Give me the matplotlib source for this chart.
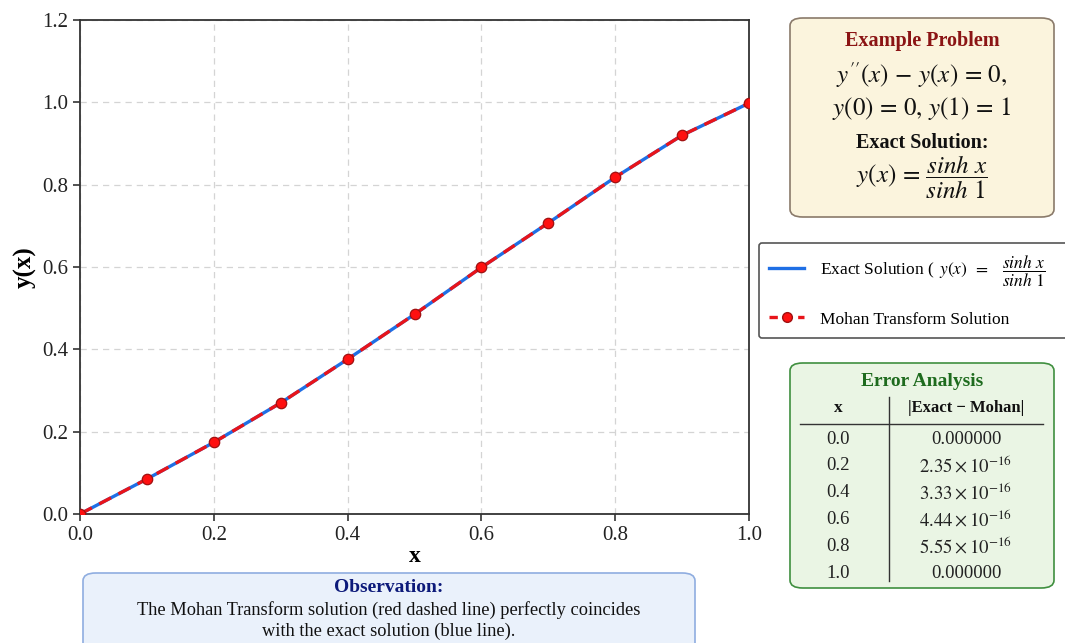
import matplotlib
matplotlib.use("Agg")
import matplotlib.pyplot as plt
from matplotlib.patches import FancyBboxPatch
from matplotlib.lines import Line2D

plt.rcParams['font.family'] = ['Liberation Serif', 'DejaVu Serif']
plt.rcParams['mathtext.fontset'] = 'stix'

# Data
x_vals = [0.0, 0.1, 0.2, 0.3, 0.4, 0.5, 0.6, 0.7, 0.8, 0.9, 1.0]
exact_vals = [0.0, 0.085, 0.174, 0.270, 0.376, 0.485, 0.599, 0.707, 0.818, 0.920, 0.998]
mohan_vals = [0.0, 0.085, 0.174, 0.270, 0.376, 0.485, 0.599, 0.707, 0.818, 0.920, 0.998]
x_ticks = [0.0, 0.2, 0.4, 0.6, 0.8, 1.0]
y_ticks = [0.0, 0.2, 0.4, 0.6, 0.8, 1.0, 1.2]
table_x = ['0.0', '0.2', '0.4', '0.6', '0.8', '1.0']
table_err = ['0.000000', r'$2.35\times10^{-16}$', r'$3.33\times10^{-16}$',
             r'$4.44\times10^{-16}$', r'$5.55\times10^{-16}$', '0.000000']

W, H = 1065, 643
fig = plt.figure(figsize=(W / 100, H / 100), dpi=100)

def fx(px):
    return px / W

def fy(py):
    return 1 - py / H

ax = fig.add_axes([fx(80), fy(514), fx(749) - fx(80), fy(20) - fy(514)])
ax.plot(x_vals, exact_vals, color='#1f6fe5', lw=2.4, zorder=3)
ax.plot(x_vals, mohan_vals, color='#e8141a', lw=2.4, ls=(0, (4, 2.5)),
        marker='o', markersize=7.5, markerfacecolor='#ff1010',
        markeredgecolor='#a01010', markeredgewidth=0.9, zorder=4)
ax.set_xlim(0, 1.0)
ax.set_ylim(0, 1.2)
ax.set_xticks(x_ticks)
ax.set_yticks(y_ticks)
ax.set_xticklabels([f'{v:.1f}' for v in x_ticks])
ax.set_yticklabels([f'{v:.1f}' for v in y_ticks])
ax.tick_params(labelsize=15, colors='#222222', length=5, width=1.1)
ax.grid(True, ls=(0, (5, 4)), color='#d4d4d4', lw=0.9)
for s in ax.spines.values():
    s.set_color('#333333')
    s.set_linewidth(1.3)
ax.set_xlabel('x', fontsize=17, fontweight='bold', labelpad=1)
ax.set_ylabel('y(x)', fontsize=18, fontweight='bold', labelpad=4)

def box(x0, y0, x1, y1, fc, ec):
    p = FancyBboxPatch((fx(x0), fy(y1)), fx(x1) - fx(x0), fy(y0) - fy(y1),
                       boxstyle='round,pad=0,rounding_size=0.012',
                       transform=fig.transFigure, facecolor=fc, edgecolor=ec,
                       linewidth=1.2, zorder=1)
    fig.patches.append(p)

# Example problem box
box(790, 18, 1054, 217, '#fbf4dd', '#8a7a6a')
cx = 922
fig.text(fx(cx), fy(41), 'Example Problem', ha='center', va='center',
         fontsize=14.5, fontweight='bold', color='#8b1414')
fig.text(fx(cx), fy(75), r"$y^{\prime\prime}(x)\,-\,y(x)\,=\,0,$", ha='center',
         va='center', fontsize=18, color='#111111')
fig.text(fx(cx), fy(108), r"$y(0)\,=\,0,\,y(1)\,=\,1$", ha='center',
         va='center', fontsize=18, color='#111111')
fig.text(fx(cx), fy(143), 'Exact Solution:', ha='center', va='center',
         fontsize=14.5, fontweight='bold', color='#111111')
fig.text(fx(cx), fy(177), r"$y(x)\,=\,\dfrac{sinh\ x}{sinh\ 1}$", ha='center',
         va='center', fontsize=18, color='#111111')

# Legend
handles = [Line2D([], [], color='#1f6fe5', lw=2.4),
           Line2D([], [], color='#e8141a', lw=2.4, ls=(0, (2.5, 1.8)),
                  marker='o', markersize=7, markerfacecolor='#ff1010',
                  markeredgecolor='#a01010')]
labels = [r'Exact Solution ( $\,y(x)\ \,=\ \ \ \dfrac{sinh\ x}{sinh\ 1}\quad\quad$ )',
          'Mohan Transform Solution']
leg = fig.legend(handles, labels, loc='upper left',
                 bbox_to_anchor=(fx(759), fy(243)), fontsize=12.5,
                 frameon=True, fancybox=True, edgecolor='#555555',
                 framealpha=1, labelspacing=1.3, handlelength=2.0,
                 borderpad=0.6, handletextpad=0.9, borderaxespad=0)
leg.get_frame().set_linewidth(1.2)

# Error analysis box
box(790, 363, 1054, 588, '#eaf5e4', '#3f8f3f')
fig.text(fx(922), fy(382), 'Error Analysis', ha='center', va='center',
         fontsize=14, fontweight='bold', color='#1e6b1e')
fig.text(fx(838), fy(408), 'x', ha='center', va='center', fontsize=12.5,
         fontweight='bold', color='#111111')
fig.text(fx(966), fy(408), '|Exact − Mohan|', ha='center', va='center',
         fontsize=12, fontweight='bold', color='#111111')
fig.add_artist(Line2D([fx(800), fx(1043)], [fy(424), fy(424)],
                      color='#333333', lw=1.0, transform=fig.transFigure))
fig.add_artist(Line2D([fx(889), fx(889)], [fy(397), fy(581)],
                      color='#333333', lw=1.0, transform=fig.transFigure))
for i, (tx, te) in enumerate(zip(table_x, table_err)):
    yy = 439 + i * 26.8
    fig.text(fx(838), fy(yy), tx, ha='center', va='center', fontsize=13.5,
             color='#222222')
    fig.text(fx(966), fy(yy), te, ha='center', va='center', fontsize=13.5,
             color='#222222')

# Observation box
box(83, 573, 695, 660, '#eaf1fb', '#8fade0')
fig.text(fx(389), fy(588), 'Observation:', ha='center', va='center',
         fontsize=14, fontweight='bold', color='#0d1a7a')
fig.text(fx(389), fy(610),
         'The Mohan Transform solution (red dashed line) perfectly coincides',
         ha='center', va='center', fontsize=13.2, color='#111111')
fig.text(fx(389), fy(631), 'with the exact solution (blue line).',
         ha='center', va='center', fontsize=13.2, color='#111111')

fig.savefig('out.png', dpi=100)
